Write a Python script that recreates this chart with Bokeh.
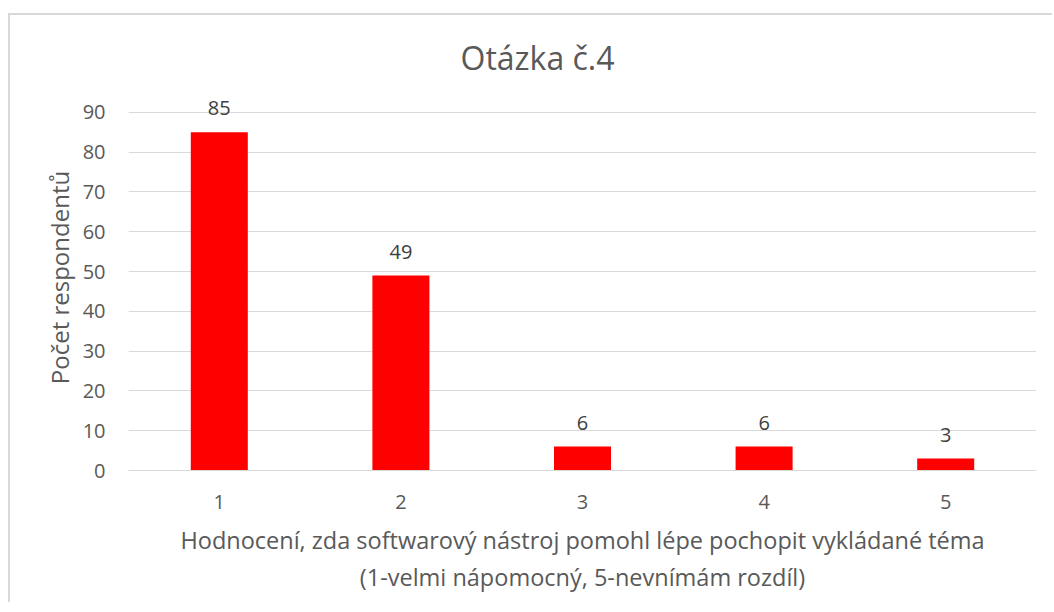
from bokeh.plotting import figure
from bokeh.models import ColumnDataSource, LabelSet, FactorRange, Range1d, FixedTicker, Title
from bokeh.core.properties import value
from bokeh.embed import file_html
from bokeh.resources import INLINE

categories = ["1", "2", "3", "4", "5"]
counts = [85, 49, 6, 6, 3]
y_ticks = [0, 10, 20, 30, 40, 50, 60, 70, 80, 90]

title_text = "Otázka č.4"
x_title_1 = "Hodnocení, zda softwarový nástroj pomohl lépe pochopit vykládané téma"
x_title_2 = "(1-velmi nápomocný, 5-nevnímám rozdíl)"
y_title = "Počet respondentů"

FONT = "Open Sans"
GREY = "#595959"

src = ColumnDataSource(dict(cat=categories, val=counts, lab=[str(v) for v in counts]))

p = figure(
    x_range=FactorRange(*categories, range_padding=0),
    y_range=Range1d(0, 97),
    width=1044, height=589,
    output_backend="svg", toolbar_location=None,
    min_border_left=118, min_border_right=18,
    min_border_top=69, min_border_bottom=134,
    styles={"border-top": "2px solid #d9d9d9", "border-left": "2px solid #d9d9d9",
            "margin-top": "13px", "margin-left": "8px"},
)
p.outline_line_color = None
p.title.text = title_text
p.title.align = "left"
p.title.offset = 332
p.title.text_font = FONT
p.title.text_font_size = "32px"
p.title.text_font_style = "normal"
p.title.text_color = GREY
p.title.standoff = 12

p.vbar(x="cat", top="val", width=0.314, source=src, fill_color="#ff0000", line_color=None)

labels = LabelSet(x="cat", y="val", text="lab", source=src, text_align="center",
                  text_baseline="bottom", y_offset=17, text_font=value(FONT),
                  text_font_size=value("20px"), text_color=value("#404040"))
p.add_layout(labels)

p.xgrid.grid_line_color = None
p.ygrid.grid_line_color = "#d9d9d9"
p.ygrid.grid_line_width = 1

p.yaxis.ticker = FixedTicker(ticks=y_ticks)
p.yaxis.axis_line_color = None
p.yaxis.major_tick_line_color = None
p.yaxis.minor_tick_line_color = None
p.yaxis.major_label_text_font = FONT
p.yaxis.major_label_text_font_size = "20px"
p.yaxis.major_label_text_color = GREY
p.yaxis.major_label_standoff = 17
p.yaxis.axis_label = y_title
p.yaxis.axis_label_text_font = FONT
p.yaxis.axis_label_text_font_size = "24px"
p.yaxis.axis_label_text_font_style = "normal"
p.yaxis.axis_label_text_color = GREY
p.yaxis.axis_label_standoff = 4

p.xaxis.axis_line_color = "#d9d9d9"
p.xaxis.major_tick_line_color = None
p.xaxis.minor_tick_line_color = None
p.xaxis.major_label_text_font = FONT
p.xaxis.major_label_text_font_size = "20px"
p.xaxis.major_label_text_color = GREY
p.xaxis.major_label_standoff = 18
p.xaxis.axis_label = x_title_1
p.xaxis.axis_label_text_font = FONT
p.xaxis.axis_label_text_font_size = "23.5px"
p.xaxis.axis_label_text_font_style = "normal"
p.xaxis.axis_label_text_color = GREY
p.xaxis.axis_label_standoff = 12

t2 = Title(text=x_title_2, align="center", text_font=FONT, text_font_size="23.5px",
           text_font_style="normal", text_color=GREY, standoff=1)
p.add_layout(t2, "below")

open("out.html", "w").write(file_html(p, INLINE))
